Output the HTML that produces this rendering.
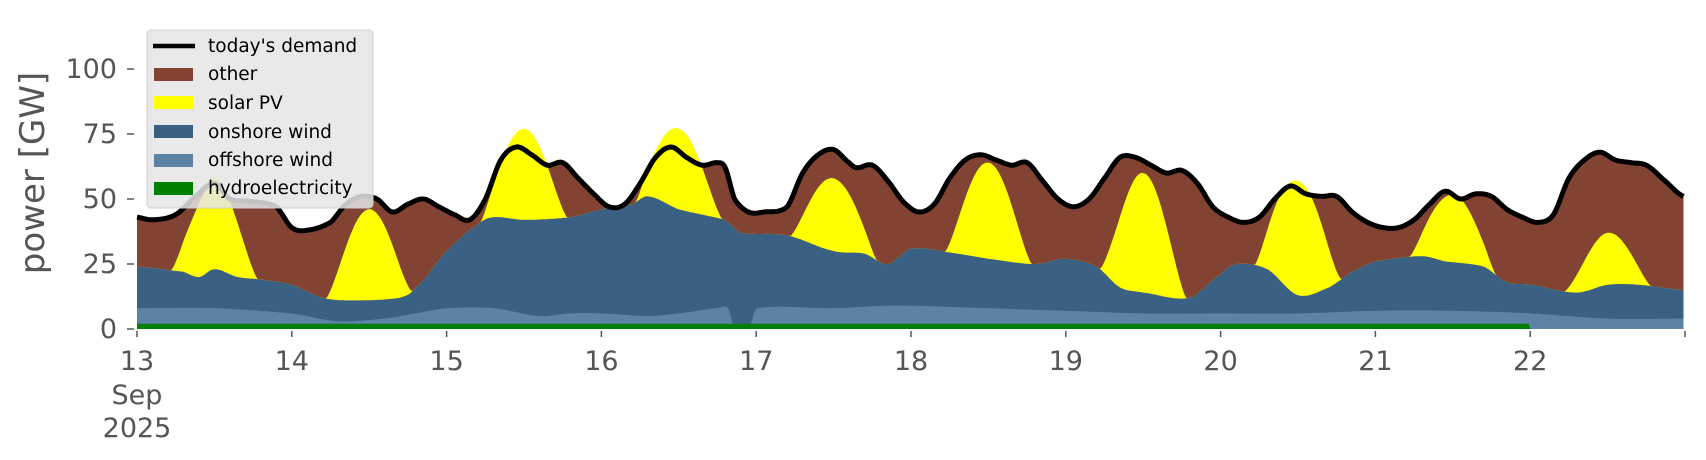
<!DOCTYPE html>
<html><head><meta charset="utf-8"><style>
html,body{margin:0;padding:0;background:#fff;}
svg{display:block;font-family:"DejaVu Sans","Liberation Sans",sans-serif;}
</style></head><body>
<svg id="s" width="1706" height="460" viewBox="0 0 1706 460" xmlns="http://www.w3.org/2000/svg">
<g id="plot"></g>
<g fill="#555" font-size="27" text-anchor="end">
<text x="117" y="338">0</text><text x="117" y="273">25</text><text x="117" y="208">50</text><text x="117" y="143">75</text><text x="117" y="78">100</text>
</g>
<g stroke="#555" stroke-width="1.5">
<line x1="127" x2="134" y1="329" y2="329"/><line x1="127" x2="134" y1="264" y2="264"/><line x1="127" x2="134" y1="199" y2="199"/><line x1="127" x2="134" y1="134" y2="134"/><line x1="127" x2="134" y1="69" y2="69"/>
</g>
<g id="xt" fill="#555" font-size="27" text-anchor="middle"></g>
<text transform="translate(44,173) rotate(-90)" fill="#555" font-size="34" text-anchor="middle">power [GW]</text>
<g>
<rect x="147" y="30" width="226" height="178" rx="4" fill="#e5e5e5" fill-opacity="0.85" stroke="#d0d0d0"/>
<line x1="153" x2="195" y1="46" y2="46" stroke="#000" stroke-width="4.5"/>
<rect x="154" y="68" width="39" height="13" fill="#834333"/>
<rect x="154" y="96" width="39" height="13" fill="#ffff00"/>
<rect x="154" y="125" width="39" height="13" fill="#3a6083"/>
<rect x="154" y="154" width="39" height="13" fill="#5c82a6"/>
<rect x="154" y="182" width="39" height="13" fill="#008000"/>
<g font-size="18.5" fill="#000">
<text x="208" y="52">today's demand</text><text x="208" y="80">other</text><text x="208" y="109">solar PV</text><text x="208" y="138">onshore wind</text><text x="208" y="166">offshore wind</text><text x="208" y="194">hydroelectricity</text>
</g></g>
</svg>
<script>
var X0=137,DW=154.8,Y0=329,K=2.6;
function X(t){return X0+DW*t;} function Y(v){return Y0-K*v;}
function interp(pts,t){
 if(t<=pts[0][0])return pts[0][1];
 for(var i=0;i<pts.length-1;i++){var a=pts[i],b=pts[i+1];
  if(t<=b[0]){var p0=pts[Math.max(0,i-1)],p3=pts[Math.min(pts.length-1,i+2)];
   var u=(t-a[0])/(b[0]-a[0]);
   var m1=(b[1]-p0[1])/2,m2=(p3[1]-a[1])/2;
   var u2=u*u,u3=u2*u;
   return (2*u3-3*u2+1)*a[1]+(u3-2*u2+u)*m1+(-2*u3+3*u2)*b[1]+(u3-u2)*m2;}}
 return pts[pts.length-1][1];}
function P(a){var o=[];for(var i=0;i<a.length;i+=2)o.push([a[i],a[i+1]]);return o;}
var dem=P([0,43,0.1,42,0.25,44,0.4,52,0.5,56,0.6,50,0.75,49,0.9,47,1.0,39,1.1,38,1.25,41,1.35,48,1.45,51,1.55,50,1.65,45,1.75,48,1.85,50,1.95,47,2.05,44,2.15,42,2.25,50,2.35,65,2.45,70,2.55,67,2.65,63,2.75,64,2.85,58,2.95,52,3.05,47,3.15,48,3.25,56,3.35,66,3.45,70,3.55,66,3.65,63,3.75,64,3.8,62,3.86,50,3.95,45,4.05,45,4.2,47,4.3,60,4.4,67,4.5,69,4.6,64,4.65,62,4.75,63,4.85,57,4.95,49,5.05,45,5.15,48,5.25,58,5.35,65,5.45,67,5.55,65,5.65,63,5.75,64,5.85,57,5.95,50,6.05,47,6.15,50,6.25,58,6.35,66,6.45,66,6.55,63,6.65,60,6.75,61,6.85,56,6.95,47,7.05,43,7.15,41,7.25,43,7.35,50,7.45,55,7.55,52,7.65,51,7.75,51,7.85,45,7.95,41,8.05,39,8.15,39,8.25,42,8.35,48,8.45,53,8.55,50,8.65,52,8.75,51,8.85,46,8.95,43,9.05,41,9.15,44,9.25,58,9.35,65,9.45,68,9.55,65,9.65,64,9.75,63,9.85,58,9.99,51]);
var off=P([0,8,0.5,8,1.0,6,1.3,3,1.6,4,1.8,6,2.0,8,2.3,8,2.6,5,2.8,6,3.0,6,3.3,5,3.5,6,3.75,8,3.82,8,3.86,0,3.95,0,4.0,8,4.5,8,4.9,9,5.5,8,6.0,7,6.5,6,7.0,6,7.5,6,8.0,7,8.5,7,9.0,6,9.5,4,9.99,4]);
var on=P([0,24,0.3,22,0.4,20,0.5,23,0.65,20,0.8,19,1.0,17,1.2,12,1.4,11,1.7,12,1.8,16,2.0,30,2.2,40,2.3,43,2.5,42,2.8,43,3.0,46,3.2,48,3.3,51,3.5,46,3.8,42,3.9,37,4.2,36,4.5,30,4.7,29,4.85,25,5.0,31,5.3,29,5.5,27,5.8,25,6.0,27,6.2,24,6.35,16,6.5,14,6.8,12,7.0,21,7.1,25,7.3,23,7.5,13,7.7,16,7.85,22,8.0,26,8.3,28,8.45,26,8.7,24,8.85,18,9.0,17,9.3,14,9.5,17,9.7,17,9.99,15]);
var amp=[35,35,35,31,28,37,46,44,26,20];
function sol(t){var d=Math.floor(t),f=t-d;var s=(f-0.22)/0.56;if(s<=0||s>=1)return 0;return (amp[d]||0)*Math.pow(Math.sin(Math.PI*s),1.3);}
var N=1000,T=9.99,ts=[];for(var i=0;i<=N;i++)ts.push(T*i/N);
function area(top,bot,col){var d='M';ts.forEach(function(t,i){d+=(i?'L':'')+X(t).toFixed(1)+','+Y(top(t)).toFixed(1);});
 for(var i=ts.length-1;i>=0;i--)d+='L'+X(ts[i]).toFixed(1)+','+Y(bot(ts[i])).toFixed(1);
 return '<path d="'+d+'Z" fill="'+col+'"/>';}
var onT=function(t){return interp(on,t);};
var offT=function(t){return Math.min(interp(off,t),onT(t));};
var hyd=function(t){return t<9.0?2.0:0;};
var z=function(){return 0;};
var h='';
h+=area(function(t){return interp(dem,t);},z,'#834333');
h+=area(function(t){return onT(t)+sol(t);},z,'#ffff00');
h+=area(onT,z,'#3a6083');
h+=area(function(t){return Math.max(offT(t),0);},z,'#5c82a6');
h+=area(hyd,z,'#008000');
var d='M';ts.forEach(function(t,i){d+=(i?'L':'')+X(t).toFixed(1)+','+Y(interp(dem,t)).toFixed(1);});
h+='<path d="'+d+'" fill="none" stroke="#000" stroke-width="5" stroke-linejoin="round"/>';
for(var k=0;k<=10;k++)h+='<line x1="'+X(k)+'" x2="'+X(k)+'" y1="331" y2="337" stroke="#555" stroke-width="1.5"/>';
document.getElementById('plot').innerHTML=h;
var xt='';for(var k=0;k<10;k++)xt+='<text x="'+X(k)+'" y="370">'+(13+k)+'</text>';
xt+='<text x="'+X(0)+'" y="404">Sep</text><text x="'+X(0)+'" y="437">2025</text>';
document.getElementById('xt').innerHTML=xt;
</script>
</body></html>
